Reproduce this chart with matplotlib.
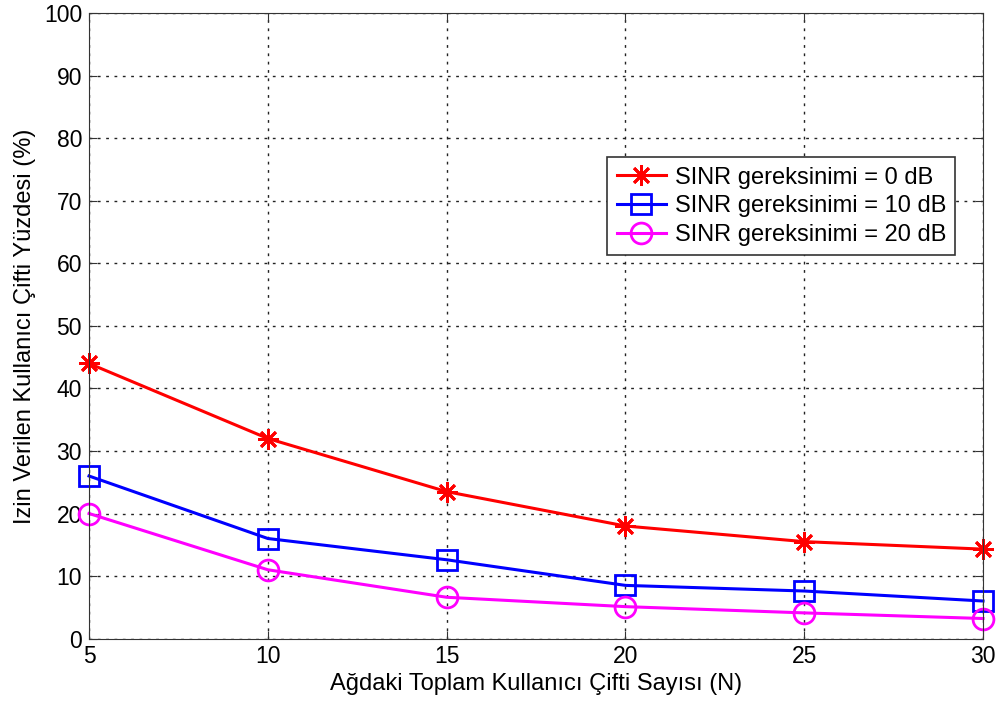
import matplotlib.pyplot as plt

# number of user pairs in the network
n_pairs = [5, 10, 15, 20, 25, 30]

# percentage of admitted user pairs for each SINR requirement
sinr_0db = [44, 32, 23.5, 18, 15.5, 14.3]
sinr_10db = [26, 16, 12.6, 8.5, 7.6, 6]
sinr_20db = [20, 11, 6.6, 5.1, 4.1, 3.2]

plt.rcParams['font.family'] = ['Liberation Sans', 'DejaVu Sans']

fig = plt.figure(figsize=(9.97, 7.05), dpi=100)
ax = fig.add_axes([0.0893, 0.0943, 0.8967, 0.8866])

ax.plot(n_pairs, sinr_0db, color='red', linewidth=2.2, marker=(8, 2, 0),
        markersize=15, markeredgewidth=2, clip_on=False,
        label='SINR gereksinimi = 0 dB')
ax.plot(n_pairs, sinr_10db, color='blue', linewidth=2.2, marker='s',
        markersize=14, markerfacecolor='none', markeredgewidth=2,
        clip_on=False, label='SINR gereksinimi = 10 dB')
ax.plot(n_pairs, sinr_20db, color='magenta', linewidth=2.2, marker='o',
        markersize=15, markerfacecolor='none', markeredgewidth=2,
        clip_on=False, label='SINR gereksinimi = 20 dB')

ax.set_xlim(5, 30)
ax.set_ylim(0, 100)
ax.set_xticks(n_pairs)
ax.set_yticks(range(0, 101, 10))
ax.tick_params(direction='in', top=True, right=True, labelsize=16.5,
               length=6, color='#333333', pad=5)
for s in ax.spines.values():
    s.set_color('#333333')
ax.grid(True, linestyle=(0, (2, 4)), color='#222222', linewidth=1)

ax.set_xlabel('Ağdaki Toplam Kullanıcı Çifti Sayısı (N)', fontsize=17, labelpad=3)
ax.set_ylabel('Izin Verilen Kullanıcı Çifti Yüzdesi (%)', fontsize=17, labelpad=6)

leg = ax.legend(loc='upper right', bbox_to_anchor=(0.969, 0.770), fontsize=17,
                fancybox=False, framealpha=1, edgecolor='#333333',
                handlelength=2.1, borderpad=0.4, labelspacing=0.28,
                handletextpad=0.35, borderaxespad=0)
leg.get_frame().set_linewidth(1.2)

plt.savefig('out.png', dpi=100)
